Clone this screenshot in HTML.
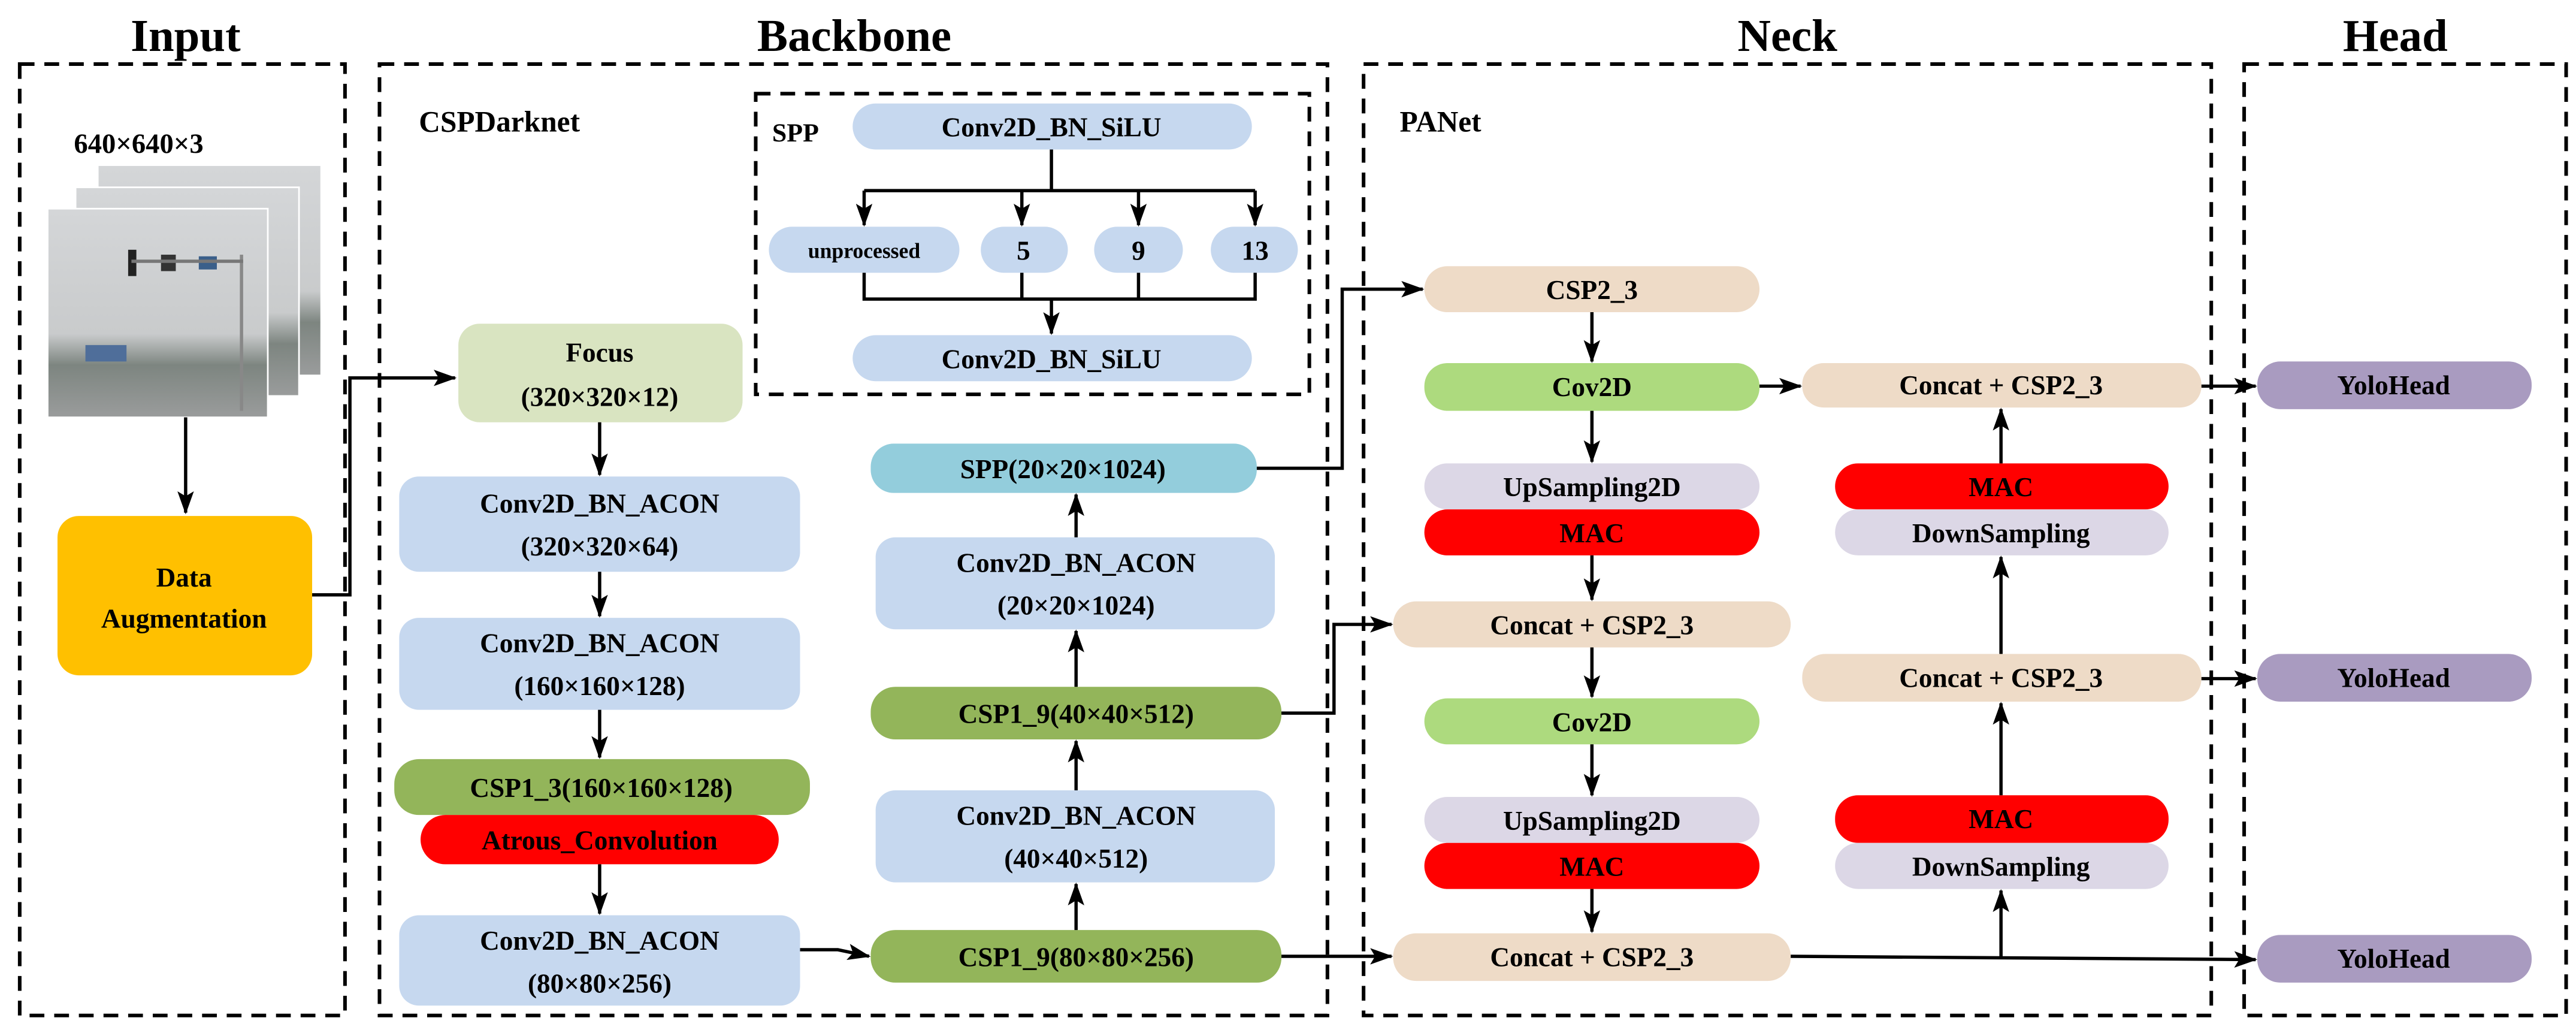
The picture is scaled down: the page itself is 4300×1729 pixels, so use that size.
<!DOCTYPE html>
<html><head><meta charset="utf-8"><style>
html,body{margin:0;padding:0;background:#fff}
svg{display:block}
text{font-family:"Liberation Serif",serif;font-weight:bold;fill:#000}
</style></head><body>
<svg width="4300" height="1729" viewBox="0 0 1568 630.5" preserveAspectRatio="none" xmlns="http://www.w3.org/2000/svg">
<defs>
<marker id="a" markerWidth="14" markerHeight="10" refX="13" refY="5" orient="auto" markerUnits="userSpaceOnUse">
<path d="M0,0 L14,5 L0,10 L3,5 z" fill="#000"/></marker>
<linearGradient id="ph" x1="0" y1="0" x2="0" y2="1">
<stop offset="0" stop-color="#d4d6d8"/><stop offset="0.6" stop-color="#c9cbcc"/><stop offset="0.75" stop-color="#7d8580"/><stop offset="1" stop-color="#9a9c9c"/></linearGradient>
</defs>
<g font-size="28" text-anchor="middle">
<text x="113" y="31">Input</text><text x="520" y="31">Backbone</text><text x="1088" y="31">Neck</text><text x="1458" y="31">Head</text>
</g>
<g fill="none" stroke="#000" stroke-width="2.2" stroke-dasharray="9,6">
<rect x="12" y="39" width="198" height="579"/>
<rect x="231" y="39" width="577" height="579"/>
<rect x="830" y="39" width="516" height="579"/>
<rect x="1366" y="39" width="196" height="579"/>
<rect x="460" y="57" width="337" height="183"/>
</g>
<text x="255" y="80" font-size="18">CSPDarknet</text>
<text x="852" y="80" font-size="18">PANet</text>
<text x="45" y="93" font-size="17">640×640×3</text>
<text x="470" y="86" font-size="16">SPP</text>
<rect x="60" y="101" width="135" height="127" fill="url(#ph)"/>
<rect x="46" y="114" width="136" height="127" fill="url(#ph)" stroke="#fff" stroke-width="1"/>
<rect x="29" y="127" width="134" height="127" fill="url(#ph)" stroke="#fff" stroke-width="1"/>
<rect x="78" y="152" width="5" height="16" fill="#222"/><rect x="98" y="155" width="9" height="10" fill="#333"/><rect x="121" y="156" width="11" height="8" fill="#3a5f8a"/>
<rect x="146" y="155" width="2" height="95" fill="#888"/><rect x="80" y="158" width="68" height="2" fill="#777"/>
<rect x="52" y="210" width="25" height="10" fill="#4f6e9a"/>
<g font-size="16.5" text-anchor="middle">
<rect x="35" y="314" width="155" height="97" rx="13" fill="#FFC000"/>
<text x="112" y="357">Data</text><text x="112" y="382">Augmentation</text>
<rect x="279" y="197" width="173" height="60" rx="13" fill="#D9E4C1"/>
<text x="365" y="220">Focus</text><text x="365" y="247">(320×320×12)</text>
<rect x="243" y="290" width="244" height="58" rx="12" fill="#C6D8EF"/>
<text x="365" y="312">Conv2D_BN_ACON</text><text x="365" y="338">(320×320×64)</text>
<rect x="243" y="376" width="244" height="56" rx="12" fill="#C6D8EF"/>
<text x="365" y="397">Conv2D_BN_ACON</text><text x="365" y="423">(160×160×128)</text>
<rect x="240" y="462" width="253" height="34" rx="15" fill="#93B55A"/>
<text x="366" y="485">CSP1_3(160×160×128)</text>
<rect x="256" y="496" width="218" height="30" rx="15" fill="#FF0000"/>
<text x="365" y="517">Atrous_Convolution</text>
<rect x="243" y="557" width="244" height="55" rx="12" fill="#C6D8EF"/>
<text x="365" y="578">Conv2D_BN_ACON</text><text x="365" y="604">(80×80×256)</text>
<rect x="530" y="566" width="250" height="32" rx="15" fill="#93B55A"/>
<text x="655" y="588">CSP1_9(80×80×256)</text>
<rect x="533" y="481" width="243" height="56" rx="12" fill="#C6D8EF"/>
<text x="655" y="502">Conv2D_BN_ACON</text><text x="655" y="528">(40×40×512)</text>
<rect x="530" y="418" width="250" height="32" rx="15" fill="#93B55A"/>
<text x="655" y="440">CSP1_9(40×40×512)</text>
<rect x="533" y="327" width="243" height="56" rx="12" fill="#C6D8EF"/>
<text x="655" y="348">Conv2D_BN_ACON</text><text x="655" y="374">(20×20×1024)</text>
<rect x="530" y="270" width="235" height="30" rx="14" fill="#93CDDC"/>
<text x="647" y="291">SPP(20×20×1024)</text>
<rect x="519" y="63" width="243" height="28" rx="14" fill="#C6D8EF"/>
<text x="640" y="83">Conv2D_BN_SiLU</text>
<rect x="468" y="138" width="116" height="28" rx="14" fill="#C6D8EF"/>
<text x="526" y="157" font-size="13">unprocessed</text>
<rect x="597" y="138" width="53" height="28" rx="14" fill="#C6D8EF"/><text x="623" y="158">5</text>
<rect x="666" y="138" width="54" height="28" rx="14" fill="#C6D8EF"/><text x="693" y="158">9</text>
<rect x="737" y="138" width="53" height="28" rx="14" fill="#C6D8EF"/><text x="764" y="158">13</text>
<rect x="519" y="204" width="243" height="28" rx="14" fill="#C6D8EF"/>
<text x="640" y="224">Conv2D_BN_SiLU</text>
<rect x="867" y="162" width="204" height="28" rx="14" fill="#EEDBC7"/><text x="969" y="182">CSP2_3</text>
<rect x="867" y="221" width="204" height="29" rx="14" fill="#ADDA7E"/><text x="969" y="241">Cov2D</text>
<rect x="867" y="282" width="204" height="28" rx="14" fill="#DCD7E6"/><text x="969" y="302">UpSampling2D</text>
<rect x="867" y="310" width="204" height="28" rx="14" fill="#FF0000"/><text x="969" y="330">MAC</text>
<rect x="848" y="366" width="242" height="28" rx="14" fill="#EEDBC7"/><text x="969" y="386">Concat + CSP2_3</text>
<rect x="867" y="425" width="204" height="28" rx="14" fill="#ADDA7E"/><text x="969" y="445">Cov2D</text>
<rect x="867" y="485" width="204" height="28" rx="14" fill="#DCD7E6"/><text x="969" y="505">UpSampling2D</text>
<rect x="867" y="513" width="204" height="28" rx="14" fill="#FF0000"/><text x="969" y="533">MAC</text>
<rect x="848" y="568" width="242" height="29" rx="14" fill="#EEDBC7"/><text x="969" y="588">Concat + CSP2_3</text>
<rect x="1097" y="221" width="243" height="27" rx="13" fill="#EEDBC7"/><text x="1218" y="240">Concat + CSP2_3</text>
<rect x="1117" y="282" width="203" height="28" rx="14" fill="#FF0000"/><text x="1218" y="302">MAC</text>
<rect x="1117" y="310" width="203" height="28" rx="14" fill="#DCD7E6"/><text x="1218" y="330">DownSampling</text>
<rect x="1097" y="398" width="243" height="29" rx="14" fill="#EEDBC7"/><text x="1218" y="418">Concat + CSP2_3</text>
<rect x="1117" y="484" width="203" height="29" rx="14" fill="#FF0000"/><text x="1218" y="504">MAC</text>
<rect x="1117" y="513" width="203" height="28" rx="14" fill="#DCD7E6"/><text x="1218" y="533">DownSampling</text>
<rect x="1374" y="220" width="167" height="29" rx="14" fill="#A99BC0"/><text x="1457" y="240">YoloHead</text>
<rect x="1374" y="398" width="167" height="29" rx="14" fill="#A99BC0"/><text x="1457" y="418">YoloHead</text>
<rect x="1374" y="569" width="167" height="29" rx="14" fill="#A99BC0"/><text x="1457" y="589">YoloHead</text>
</g>
<g fill="none" stroke="#000" stroke-width="2">
<path d="M526,116 H764"/>
<path d="M526,166 V182 H764 V166"/>
<path d="M622,166 V182"/><path d="M693,166 V182"/>
<path d="M640,91 V116"/>
</g>
<g fill="none" stroke="#000" stroke-width="2" marker-end="url(#a)">
<path d="M113,254 V312"/>
<path d="M190,362 H213 V230 H277"/>
<path d="M365,257 V289"/>
<path d="M365,348 V375"/>
<path d="M365,432 V461"/>
<path d="M365,526 V556"/>
<path d="M487,578 L510,578 L529,582"/>
<path d="M655,566 V538"/>
<path d="M655,481 V451"/>
<path d="M655,418 V384"/>
<path d="M655,327 V301"/>
<path d="M526,116 V137"/>
<path d="M622,116 V137"/><path d="M693,116 V137"/><path d="M764,116 V137"/>
<path d="M640,182 V203"/>
<path d="M765,285 H817 V176 H866"/>
<path d="M969,190 V220"/>
<path d="M969,250 V281"/>
<path d="M969,338 V365"/>
<path d="M780,434 H812 V380 H847"/>
<path d="M969,394 V424"/>
<path d="M969,453 V484"/>
<path d="M969,541 V567"/>
<path d="M780,582 H847"/>
<path d="M1090,582 L1373,584"/>
<path d="M1218,583 V542"/>
<path d="M1218,484 V428"/>
<path d="M1218,398 V339"/>
<path d="M1218,282 V249"/>
<path d="M1071,235 H1096"/>
<path d="M1340,235 H1373"/>
<path d="M1340,413 H1373"/>
</g>
</svg>
</body></html>
